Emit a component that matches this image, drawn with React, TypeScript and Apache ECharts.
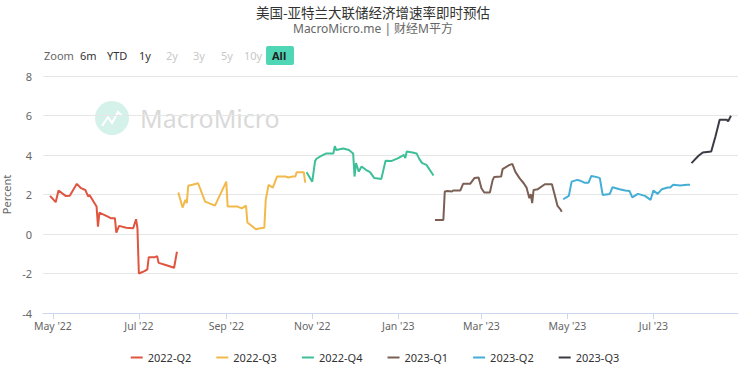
import React, { useEffect, useRef } from "react";
import * as echarts from "echarts";

const seriesNames = ["2022-Q2", "2022-Q3", "2022-Q4", "2023-Q1", "2023-Q2", "2023-Q3"];
const seriesColors = ["#e0553f", "#f2b94b", "#3dbf98", "#7b5f55", "#45aed6", "#3c3b45"];

const q2_2022: [string, number][] = [
  ["2022-04-29", 1.93], ["2022-05-03", 1.61], ["2022-05-05", 2.2], ["2022-05-10", 1.93], ["2022-05-13", 1.94],
  ["2022-05-18", 2.54], ["2022-05-21", 2.32], ["2022-05-24", 2.23], ["2022-05-26", 1.9], ["2022-05-27", 1.98],
  ["2022-06-01", 1.39], ["2022-06-02", 0.37], ["2022-06-03", 1.08], ["2022-06-09", 0.88], ["2022-06-11", 0.8],
  ["2022-06-14", 0.8], ["2022-06-15", 0.07], ["2022-06-17", 0.41], ["2022-06-22", 0.32], ["2022-06-27", 0.29],
  ["2022-06-29", 0.75], ["2022-06-30", 0.29], ["2022-07-01", -2.0], ["2022-07-05", -1.88], ["2022-07-07", -1.79],
  ["2022-07-08", -1.18], ["2022-07-12", -1.18], ["2022-07-14", -1.12], ["2022-07-15", -1.46], ["2022-07-20", -1.57],
  ["2022-07-26", -1.71], ["2022-07-28", -0.9],
];
const q3_2022: [string, number][] = [
  ["2022-07-29", 2.1], ["2022-08-01", 1.34], ["2022-08-03", 1.73], ["2022-08-04", 1.56], ["2022-08-05", 2.44],
  ["2022-08-08", 2.49], ["2022-08-12", 2.57], ["2022-08-17", 1.64], ["2022-08-24", 1.44], ["2022-09-01", 2.65],
  ["2022-09-02", 1.39], ["2022-09-09", 1.39], ["2022-09-12", 1.3], ["2022-09-15", 1.44], ["2022-09-16", 0.58],
  ["2022-09-22", 0.24], ["2022-09-25", 0.29], ["2022-09-28", 0.32], ["2022-09-29", 1.73], ["2022-10-01", 2.49],
  ["2022-10-04", 2.35], ["2022-10-07", 2.91], ["2022-10-13", 2.91], ["2022-10-15", 2.86], ["2022-10-18", 2.91],
  ["2022-10-20", 2.91], ["2022-10-21", 3.13], ["2022-10-26", 3.13], ["2022-10-27", 2.6],
];
const q4_2022: [string, number][] = [
  ["2022-10-28", 3.13], ["2022-11-01", 2.65], ["2022-11-03", 3.69], ["2022-11-04", 3.81], ["2022-11-07", 3.94],
  ["2022-11-11", 4.08], ["2022-11-16", 4.08], ["2022-11-17", 4.45], ["2022-11-18", 4.25], ["2022-11-23", 4.33],
  ["2022-11-27", 4.25], ["2022-11-30", 4.08], ["2022-12-01", 2.91], ["2022-12-02", 3.59], ["2022-12-04", 3.16],
  ["2022-12-06", 3.42], ["2022-12-09", 3.25], ["2022-12-12", 3.13], ["2022-12-15", 2.83], ["2022-12-20", 2.79],
  ["2022-12-23", 3.71], ["2022-12-27", 3.69], ["2023-01-01", 3.84], ["2023-01-05", 4.01], ["2023-01-06", 3.84],
  ["2023-01-07", 4.18], ["2023-01-11", 4.13], ["2023-01-14", 4.08], ["2023-01-16", 3.79], ["2023-01-18", 3.59],
  ["2023-01-21", 3.5], ["2023-01-26", 2.96],
];
const q1_2023: [string, number][] = [
  ["2023-01-27", 0.71], ["2023-02-02", 0.71], ["2023-02-03", 2.15], ["2023-02-05", 2.18], ["2023-02-08", 2.15],
  ["2023-02-09", 2.2], ["2023-02-14", 2.2], ["2023-02-16", 2.54], ["2023-02-21", 2.54], ["2023-02-24", 2.83],
  ["2023-02-27", 2.86], ["2023-03-01", 2.32], ["2023-03-03", 2.1], ["2023-03-07", 2.1], ["2023-03-09", 2.74],
  ["2023-03-10", 2.88], ["2023-03-15", 2.91], ["2023-03-16", 3.28], ["2023-03-21", 3.5], ["2023-03-23", 3.54],
  ["2023-03-25", 3.16], ["2023-03-28", 2.83], ["2023-03-31", 2.57], ["2023-04-02", 2.35], ["2023-04-04", 1.81],
  ["2023-04-05", 2.02], ["2023-04-06", 1.56], ["2023-04-07", 2.23], ["2023-04-10", 2.27], ["2023-04-15", 2.52],
  ["2023-04-20", 2.52], ["2023-04-22", 1.98], ["2023-04-24", 1.42], ["2023-04-26", 1.25], ["2023-04-27", 1.13],
];
const q2_2023: [string, number][] = [
  ["2023-04-28", 1.76], ["2023-05-02", 1.93], ["2023-05-04", 2.65], ["2023-05-08", 2.74], ["2023-05-10", 2.7],
  ["2023-05-13", 2.6], ["2023-05-16", 2.6], ["2023-05-18", 2.94], ["2023-05-22", 2.88], ["2023-05-24", 2.83],
  ["2023-05-26", 1.98], ["2023-05-31", 2.02], ["2023-06-02", 2.37], ["2023-06-07", 2.27], ["2023-06-11", 2.2],
  ["2023-06-14", 2.18], ["2023-06-16", 1.85], ["2023-06-20", 2.03], ["2023-06-25", 1.93], ["2023-06-29", 1.73],
  ["2023-07-01", 2.2], ["2023-07-04", 2.03], ["2023-07-07", 2.27], ["2023-07-11", 2.35], ["2023-07-13", 2.35],
  ["2023-07-15", 2.49], ["2023-07-20", 2.45], ["2023-07-25", 2.49], ["2023-07-27", 2.49],
];
const q3_2023: [string, number][] = [
  ["2023-07-28", 3.59], ["2023-08-02", 3.96], ["2023-08-05", 4.13], ["2023-08-11", 4.18], ["2023-08-14", 4.94],
  ["2023-08-17", 5.79], ["2023-08-22", 5.79], ["2023-08-23", 5.7], ["2023-08-25", 5.99],
];

const xTickDates = ["2022-05-01", "2022-07-01", "2022-09-01", "2022-11-01", "2023-01-01", "2023-03-01", "2023-05-01", "2023-07-01"];
const xRange = ["2022-04-24", "2023-08-30"];
const yTicks = [-4, -2, 0, 2, 4, 6, 8];
const rangeButtons = ["6m", "YTD", "1y", "2y", "3y", "5y", "10y", "All"];
const monthNames = ["Jan", "Feb", "Mar", "Apr", "May", "Jun", "Jul", "Aug", "Sep", "Oct", "Nov", "Dec"];

const parseDate = (s: string) => {
  const [y, m, d] = s.split("-").map(Number);
  return new Date(y, m - 1, d).getTime();
};

const allSeries = [q2_2022, q3_2022, q4_2022, q1_2023, q2_2023, q3_2023];
const FONT = "'Noto Sans', 'Noto Sans CJK SC', sans-serif";

export default function App() {
  const ref = useRef<HTMLDivElement>(null);
  useEffect(() => {
    if (!ref.current) return;
    const chart = echarts.init(ref.current, null, { renderer: "svg" });
    const btnX = [80, 107, 139, 166, 193, 221, 244, 272];
    const btnColor = ["#333", "#333", "#333", "#c8c8c8", "#c8c8c8", "#c8c8c8", "#c8c8c8", "#222"];
    const tickVals = xTickDates.map(parseDate);
    const option: any = {
      animation: false,
      backgroundColor: "#fff",
      textStyle: { fontFamily: FONT },
      title: {
        text: "美国-亚特兰大联储经济增速率即时预估",
        subtext: "MacroMicro.me | 财经M平方",
        left: 368,
        textAlign: "center",
        top: 0,
        itemGap: 4,
        textStyle: { fontSize: 13.5, fontWeight: "normal", color: "#333", fontFamily: "'Noto Sans CJK SC', sans-serif" },
        subtextStyle: { fontSize: 12, color: "#666", fontFamily: "'Noto Sans', 'Noto Sans CJK SC', sans-serif" },
      },
      legend: {
        data: seriesNames,
        top: 347,
        left: "center",
        itemWidth: 12,
        itemHeight: 2,
        itemGap: 25,
        icon: "rect",
        textStyle: { fontSize: 11, color: "#333", fontFamily: FONT },
      },
      grid: { left: 43, right: 12, top: 76, bottom: 55, containLabel: false, outerBoundsMode: "none" },
      xAxis: {
        type: "value",
        min: parseDate(xRange[0]),
        max: parseDate(xRange[1]),
        axisLine: { show: true, onZero: false, lineStyle: { color: "#ccd6eb" } },
        axisTick: { show: true, length: 6, lineStyle: { color: "#ccd6eb" }, customValues: tickVals },
        axisLabel: {
          customValues: tickVals,
          color: "#666",
          fontSize: 10.5,
          margin: 8,
          fontFamily: FONT,
          formatter: (v: number) => {
            const d = new Date(v);
            return `${monthNames[d.getMonth()]} '${String(d.getFullYear()).slice(2)}`;
          },
        },
        splitLine: { show: false },
      },
      yAxis: {
        type: "value",
        min: yTicks[0],
        max: yTicks[yTicks.length - 1],
        interval: 2,
        name: "Percent",
        nameLocation: "middle",
        nameGap: 31,
        nameMoveOverlap: false,
        nameTextStyle: { color: "#666", fontSize: 11, fontFamily: FONT },
        axisLine: { show: false },
        axisTick: { show: false },
        axisLabel: { color: "#666", fontSize: 11, margin: 11, fontFamily: FONT },
        splitLine: { lineStyle: { color: "#e6e6e6" } },
      },
      series: allSeries.map((data, i) => ({
        name: seriesNames[i],
        type: "line",
        data: data.map(([d, v]) => [parseDate(d), v]),
        showSymbol: false,
        symbol: "none",
        color: seriesColors[i],
        lineStyle: { width: 2, color: seriesColors[i] },
        z: 3,
      })),
      graphic: [
        {
          type: "group",
          z: 0,
          silent: true,
          children: [
            { type: "circle", shape: { cx: 112, cy: 118, r: 17 }, style: { fill: "#c9efe5", opacity: 0.8 } },
            {
              type: "polyline",
              shape: { points: [[102, 126], [108, 117], [112, 123], [118, 112], [122, 116]] },
              style: { stroke: "#fff", lineWidth: 2, fill: null },
            },
            {
              type: "text",
              x: 140,
              y: 118,
              style: { text: "MacroMicro", fontSize: 25, fill: "#d4d4d4", opacity: 0.9, fontFamily: FONT, verticalAlign: "middle" },
            },
          ],
        },
        {
          type: "text",
          x: 44,
          y: 55,
          style: { text: "Zoom", fontSize: 11, fill: "#666", fontFamily: FONT, verticalAlign: "middle" },
        },
        {
          type: "rect",
          shape: { x: 266, y: 46, width: 28, height: 19, r: 2 },
          style: { fill: "#4fd6b5" },
        },
        ...rangeButtons.map((b, i) => ({
          type: "text",
          x: btnX[i],
          y: 55,
          style: {
            text: b,
            fontSize: 11,
            fill: btnColor[i],
            fontWeight: b === "All" ? "bold" : "normal",
            fontFamily: FONT,
            verticalAlign: "middle",
          },
        })),
      ],
    };
    chart.setOption(option);
    return () => chart.dispose();
  }, []);
  return <div ref={ref} style={{ width: 750, height: 368, position: "absolute", left: 0, top: 0 }} />;
}
